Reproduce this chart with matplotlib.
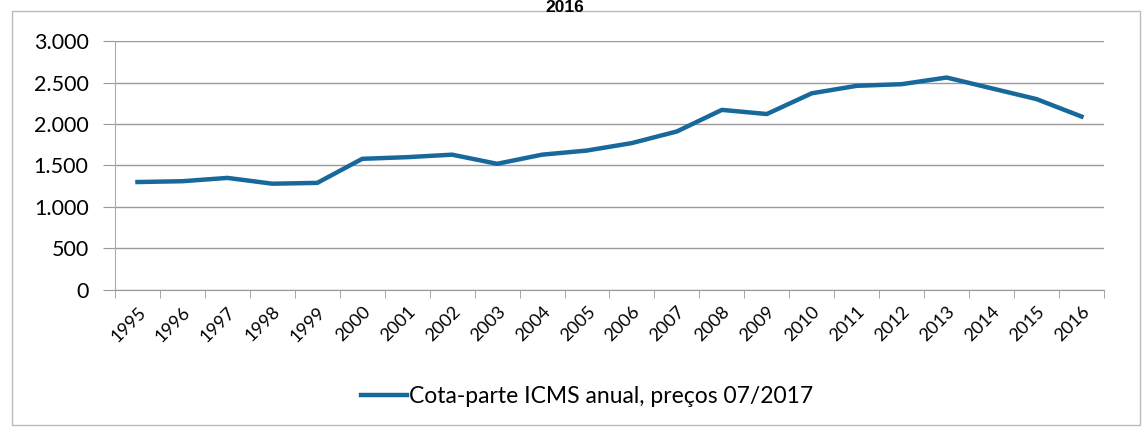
import matplotlib.pyplot as plt
from matplotlib.patches import Rectangle
from matplotlib.lines import Line2D
from matplotlib.ticker import FuncFormatter

years = [str(y) for y in range(1995, 2017)]
cota_parte = [1300, 1310, 1350, 1280, 1290, 1580, 1600, 1630, 1520, 1630, 1680,
              1770, 1910, 2170, 2120, 2370, 2460, 2480, 2560, 2430, 2300, 2090]
legend_label = "Cota-parte ICMS anual, preços 07/2017"
title = "2016"

plt.rcParams['font.family'] = ['Lato', 'DejaVu Sans']

fig = plt.figure(figsize=(11.44, 4.32), dpi=100)
ax = fig.add_axes([0.1005, 0.329, 0.8645, 0.576])

x = list(range(len(years)))
ax.plot(x, cota_parte, color='#17699c', linewidth=3.2, solid_joinstyle='round')

ax.set_xlim(-0.5, len(years) - 0.5)
ax.set_ylim(0, 3000)
ax.set_yticks(range(0, 3001, 500))
ax.yaxis.set_major_formatter(FuncFormatter(lambda v, p: f"{int(v):,}".replace(",", ".")))
ax.tick_params(axis='y', labelsize=15.5, length=9, color='#999999', pad=10)

ax.set_xticks(x)
ax.set_xticklabels(years, rotation=45, ha='right', rotation_mode='anchor', fontsize=13)
ax.set_xticks([i - 0.5 for i in range(len(years) + 1)], minor=True)
ax.tick_params(axis='x', which='major', length=0, pad=10)
ax.tick_params(axis='x', which='minor', length=6, color='#999999')

ax.grid(axis='y', color='#9a9a9a', linewidth=1)
ax.set_axisbelow(True)
for side in ['top', 'right']:
    ax.spines[side].set_visible(False)
ax.spines['left'].set_color('#aaaaaa')
ax.spines['bottom'].set_color('#999999')

# outer chart frame
fig.patches.append(Rectangle((12 / 1144, 7 / 432), 1128 / 1144, 414 / 432,
                             transform=fig.transFigure, fill=False,
                             edgecolor='#bbbbbb', linewidth=1))

fig.text(0.494, 0.999, title, ha='center', va='top', fontsize=12.5,
         fontweight='bold', family=['Liberation Sans', 'DejaVu Sans'])

handle = Line2D([], [], color='#17699c', linewidth=3.2)
fig.legend([handle], [legend_label], loc='center', bbox_to_anchor=(0.513, 0.082),
           frameon=False, fontsize=16.5, handlelength=2.0, handletextpad=0.1)

fig.savefig('out.png', dpi=100)
